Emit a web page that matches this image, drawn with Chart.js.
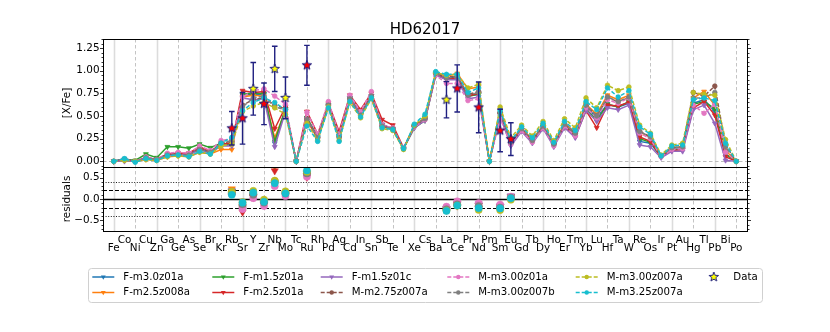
<!DOCTYPE html>
<html><head><meta charset="utf-8">
<script src="https://cdn.jsdelivr.net/npm/chart.js@4.4.1/dist/chart.umd.min.js"></script>
<style>html,body{margin:0;padding:0;background:#fff;}#wrap{width:830px;height:332px;}</style>
</head><body><div id="wrap"><canvas id="c" width="830" height="332"></canvas></div>
<script>
// ---------------- data ----------------
const elements = ['Fe','Co','Ni','Cu','Zn','Ga','Ge','As','Se','Br','Kr','Rb','Sr','Y','Zr','Nb','Mo','Tc','Ru','Rh',
  'Pd','Ag','Cd','In','Sn','Sb','Te','I','Xe','Cs','Ba','La','Ce','Pr','Nd','Pm','Sm','Eu','Gd','Tb',
  'Dy','Ho','Er','Tm','Yb','Lu','Hf','Ta','W','Re','Os','Ir','Pt','Au','Hg','Tl','Pb','Bi','Po'];
const modelNames = ['F-m3.0z01a','F-m2.5z008a','F-m1.5z01a','F-m2.5z01a','F-m1.5z01c',
  'M-m2.75z007a','M-m3.00z01a','M-m3.00z007b','M-m3.00z007a','M-m3.25z007a'];
const modelColors = ['#1f77b4','#ff7f0e','#2ca02c','#d62728','#9467bd','#8c564b','#e377c2','#7f7f7f','#bcbd22','#17becf'];
const F_m3_0z01a = [
0.00,0.03,0.00,0.04,0.02,0.07,0.08,0.08,0.14,0.10,
0.18,0.18,0.73,0.74,0.74,0.20,0.58,0.00,0.48,0.26,
0.62,0.27,0.70,0.52,0.72,0.40,0.36,0.14,0.38,0.46,
0.96,0.92,0.93,0.72,0.74,0.00,0.52,0.20,0.35,0.22,
0.38,0.18,0.40,0.30,0.60,0.48,0.63,0.60,0.64,0.22,
0.20,0.05,0.13,0.14,0.64,0.68,0.55,0.08,0.00];
const F_m2_5z008a = [
0.00,0.01,0.00,0.02,0.01,0.05,0.06,0.05,0.10,0.08,
0.13,0.13,0.71,0.73,0.72,0.26,0.56,0.00,0.45,0.25,
0.61,0.26,0.68,0.51,0.70,0.38,0.35,0.14,0.39,0.48,
0.98,0.94,0.97,0.80,0.82,0.00,0.57,0.22,0.37,0.24,
0.40,0.19,0.42,0.32,0.63,0.52,0.73,0.68,0.73,0.32,
0.27,0.06,0.15,0.16,0.70,0.77,0.62,0.12,0.00];
const F_m1_5z01a = [
0.00,0.02,0.01,0.08,0.04,0.16,0.16,0.145,0.19,0.15,
0.20,0.19,0.74,0.75,0.75,0.22,0.58,0.00,0.48,0.27,
0.62,0.28,0.70,0.52,0.72,0.40,0.36,0.14,0.37,0.45,
0.96,0.91,0.92,0.72,0.74,0.00,0.52,0.19,0.35,0.22,
0.38,0.18,0.39,0.29,0.58,0.45,0.63,0.60,0.66,0.25,
0.21,0.05,0.13,0.13,0.63,0.66,0.58,0.08,0.00];
const F_m2_5z01a = [
0.00,0.02,0.00,0.04,0.02,0.08,0.09,0.09,0.16,0.11,
0.19,0.20,0.78,0.76,0.77,0.36,0.60,0.00,0.55,0.30,
0.64,0.33,0.73,0.57,0.75,0.46,0.40,0.15,0.38,0.46,
0.96,0.91,0.92,0.72,0.75,0.00,0.52,0.19,0.35,0.22,
0.37,0.18,0.39,0.27,0.56,0.37,0.62,0.61,0.65,0.27,
0.22,0.05,0.12,0.13,0.59,0.66,0.51,0.05,0.00];
const F_m1_5z01c = [
0.00,0.00,0.00,0.04,0.02,0.06,0.07,0.07,0.13,0.09,
0.17,0.17,0.70,0.68,0.69,0.16,0.55,0.00,0.47,0.26,
0.61,0.28,0.70,0.52,0.72,0.41,0.36,0.14,0.37,0.45,
0.95,0.90,0.90,0.69,0.71,0.00,0.50,0.17,0.33,0.20,
0.36,0.16,0.37,0.26,0.56,0.44,0.59,0.57,0.62,0.18,
0.16,0.04,0.11,0.11,0.57,0.62,0.42,0.01,0.00];
const M_m2_75z007a = [
0.00,0.02,0.00,0.03,0.02,0.08,0.08,0.07,0.14,0.10,
0.20,0.22,0.62,0.68,0.70,0.62,0.58,0.00,0.47,0.26,
0.62,0.27,0.69,0.52,0.72,0.39,0.36,0.14,0.39,0.48,
0.97,0.93,0.94,0.74,0.77,0.00,0.54,0.21,0.36,0.23,
0.39,0.19,0.41,0.31,0.62,0.50,0.70,0.66,0.70,0.33,
0.27,0.06,0.15,0.16,0.76,0.72,0.83,0.18,0.00];
const M_m3_00z01a = [
0.00,0.02,0.00,0.05,0.02,0.09,0.10,0.09,0.17,0.12,
0.23,0.25,0.71,0.78,0.80,0.72,0.63,0.00,0.54,0.30,
0.66,0.30,0.73,0.55,0.77,0.40,0.37,0.15,0.38,0.46,
0.95,0.86,0.86,0.67,0.69,0.00,0.47,0.19,0.34,0.21,
0.37,0.17,0.39,0.28,0.59,0.48,0.68,0.64,0.70,0.31,
0.25,0.05,0.13,0.14,0.62,0.53,0.63,0.10,0.00];
const M_m3_00z007b = [
0.00,0.02,0.00,0.04,0.02,0.07,0.07,0.07,0.13,0.10,
0.20,0.23,0.60,0.70,0.72,0.60,0.57,0.00,0.46,0.26,
0.62,0.26,0.69,0.51,0.72,0.39,0.36,0.14,0.39,0.47,
0.97,0.92,0.93,0.73,0.76,0.00,0.54,0.21,0.36,0.23,
0.39,0.19,0.41,0.31,0.62,0.50,0.71,0.66,0.71,0.33,
0.27,0.06,0.15,0.16,0.70,0.70,0.76,0.16,0.00];
const M_m3_00z007a = [
0.00,0.01,0.00,0.02,0.01,0.05,0.06,0.05,0.10,0.08,
0.17,0.19,0.55,0.61,0.65,0.59,0.52,0.00,0.42,0.23,
0.60,0.23,0.65,0.48,0.69,0.36,0.34,0.13,0.40,0.50,
0.98,0.95,0.96,0.81,0.85,0.00,0.60,0.26,0.40,0.28,
0.44,0.23,0.47,0.37,0.70,0.59,0.84,0.78,0.82,0.40,
0.31,0.07,0.18,0.20,0.76,0.74,0.73,0.24,0.00];
const M_m3_25z007a = [
0.00,0.03,-0.01,0.03,0.01,0.06,0.07,0.05,0.11,0.08,
0.20,0.265,0.56,0.65,0.70,0.65,0.57,0.00,0.39,0.22,
0.59,0.22,0.66,0.49,0.70,0.37,0.35,0.14,0.41,0.52,
0.99,0.96,0.96,0.76,0.81,0.00,0.56,0.23,0.38,0.26,
0.42,0.21,0.44,0.34,0.66,0.57,0.81,0.71,0.78,0.38,
0.30,0.06,0.17,0.18,0.68,0.70,0.67,0.20,0.00];
const models = [F_m3_0z01a,F_m2_5z008a,F_m1_5z01a,F_m2_5z01a,F_m1_5z01c,
  M_m2_75z007a,M_m3_00z01a,M_m3_00z007b,M_m3_00z007a,M_m3_25z007a];

const dataElems  = ['Rb','Sr','Y','Zr','Nb','Mo','Ru','La','Ce','Nd','Sm','Eu'];
const dataValues = [0.365,0.475,0.80,0.635,1.02,0.70,1.06,0.68,0.805,0.595,0.34,0.245];
const dataErrors = [0.185,0.285,0.29,0.23,0.25,0.23,0.22,0.20,0.26,0.28,0.235,0.18];
const dataYellow = [false,false,true,false,true,true,false,true,false,false,false,false];

const topTickValues = [0,0.25,0.5,0.75,1.0,1.25];
const topTickLabels = ['0.00','0.25','0.50','0.75','1.00','1.25'];
const resTickValues = [-0.5,0,0.5];
const resTickLabels = ['\u22120.5','0.0','0.5'];
const title = 'HD62017';

// ---------------- layout ----------------
const P = {left:103, right:747, top:39, mid:167, bottom:231, W:830, H:332};
const TOP_RANGE = [-0.0625, 1.35];
const RES_RANGE = [-0.75, 0.75];
const topMin = TOP_RANGE[1] - (TOP_RANGE[1]-TOP_RANGE[0])*(P.bottom-P.top)/(P.mid-P.top);
const resMax = RES_RANGE[0] + (RES_RANGE[1]-RES_RANGE[0])*(P.bottom-P.top)/(P.bottom-P.mid);
const FONT = '"DejaVu Sans", sans-serif';
const NAVY = '#1f1f80';

function makeStar(fill, r){
  const s = Math.ceil(r*2+4), c = document.createElement('canvas');
  c.width = c.height = s;
  const g = c.getContext('2d');
  starPath(g, s/2, s/2, r);
  g.fillStyle = fill; g.fill();
  g.lineWidth = 1; g.strokeStyle = NAVY; g.stroke();
  return c;
}
function starPath(g, cx, cy, r){
  g.beginPath();
  for (let k=0;k<10;k++){
    const a = -Math.PI/2 + k*Math.PI/5, rr = k%2===0 ? r : r*0.42;
    const px = cx + rr*Math.cos(a), py = cy + rr*Math.sin(a);
    if (k===0) g.moveTo(px,py); else g.lineTo(px,py);
  }
  g.closePath();
}
const redStar = makeStar('#ff0000', 5);
const yellowStar = makeStar('#ffff00', 5);

const dataIdx = dataElems.map(e => elements.indexOf(e));
const isF = modelNames.map(n => n.startsWith('F'));

const datasets = [];
models.forEach((m, i) => {
  datasets.push({
    label: modelNames[i], yAxisID: 'y', order: 40 - i,
    data: m.map((v, k) => ({x: k, y: v})),
    borderColor: modelColors[i], backgroundColor: modelColors[i],
    borderWidth: 1.5, borderDash: isF[i] ? [] : [4, 2],
    pointStyle: isF[i] ? 'triangle' : 'circle', pointRotation: isF[i] ? 180 : 0,
    pointRadius: isF[i] ? 2.8 : 2.3, pointBorderWidth: 0.8, pointBorderColor: modelColors[i],
    tension: 0, clip: {left: 8, right: 8, top: 8, bottom: -(P.bottom - P.mid)}
  });
});
models.forEach((m, i) => {
  datasets.push({
    label: modelNames[i] + ' residual', yAxisID: 'yr', order: 20 - i, showLine: false,
    data: dataIdx.map((xi, k) => ({x: xi, y: +(dataValues[k] - m[xi]).toFixed(3)})),
    borderColor: modelColors[i], backgroundColor: modelColors[i],
    pointStyle: isF[i] ? 'triangle' : 'circle', pointRotation: isF[i] ? 180 : 0,
    pointRadius: isF[i] ? 4.2 : 3.6, pointBorderWidth: 0.5,
    clip: {left: 8, right: 8, top: -(P.mid - P.top), bottom: 8}
  });
});
datasets.push({
  label: 'Data', yAxisID: 'y', order: 0, showLine: false, isData: true,
  data: dataIdx.map((xi, k) => ({x: xi, y: dataValues[k]})),
  pointStyle: dataYellow.map(yl => yl ? yellowStar : redStar),
  pointRadius: 5, clip: false
});

function tri(ctx, x, y, r){
  ctx.beginPath();
  for (let k=0;k<3;k++){
    const a = Math.PI + k*2*Math.PI/3;
    const px = x + Math.sin(a)*r, py = y - Math.cos(a)*r;
    if (k===0) ctx.moveTo(px,py); else ctx.lineTo(px,py);
  }
  ctx.closePath();
}

const panelPlugin = {
  id: 'panels',
  beforeDatasetsDraw(chart){
    const ctx = chart.ctx, xs = chart.scales.x, ys = chart.scales.y, yr = chart.scales.yr;
    ctx.save();
    for (let i = 0; i < elements.length; i += 2){
      const px = Math.round(xs.getPixelForValue(i)) + 0.5;
      if (i % 4 === 0){ ctx.strokeStyle = '#dcdcdc'; ctx.lineWidth = 1.6; ctx.setLineDash([]); }
      else { ctx.strokeStyle = '#c4c4c4'; ctx.lineWidth = 1; ctx.setLineDash([3.5, 2.5]); }
      ctx.beginPath(); ctx.moveTo(px, P.top); ctx.lineTo(px, P.bottom); ctx.stroke();
    }
    // zero line in top panel
    let py = Math.round(ys.getPixelForValue(0)) + 0.5;
    ctx.strokeStyle = '#bdbdbd'; ctx.lineWidth = 1; ctx.setLineDash([3.5, 2.5]);
    ctx.beginPath(); ctx.moveTo(P.left, py); ctx.lineTo(P.right, py); ctx.stroke();
    // residual reference lines
    const refs = [[0, [], 1.3], [0.2, [4, 2], 1], [-0.2, [4, 2], 1], [0.4, [1, 1.6], 0.9], [-0.4, [1, 1.6], 0.9]];
    refs.forEach(([v, d, w]) => {
      const p = Math.round(yr.getPixelForValue(v)) + 0.5;
      ctx.strokeStyle = '#000'; ctx.lineWidth = w; ctx.setLineDash(d);
      ctx.beginPath(); ctx.moveTo(P.left, p); ctx.lineTo(P.right, p); ctx.stroke();
    });
    ctx.restore();
  },
  beforeDatasetDraw(chart, args){
    const ds = chart.data.datasets[args.index];
    if (!ds.isData) return;
    const ctx = chart.ctx, xs = chart.scales.x, ys = chart.scales.y;
    ctx.save();
    ctx.strokeStyle = NAVY; ctx.lineWidth = 1.4; ctx.setLineDash([]);
    dataIdx.forEach((xi, k) => {
      const px = xs.getPixelForValue(xi);
      const p1 = ys.getPixelForValue(dataValues[k] + dataErrors[k]);
      const p2 = ys.getPixelForValue(dataValues[k] - dataErrors[k]);
      ctx.beginPath();
      ctx.moveTo(px, p1); ctx.lineTo(px, p2);
      ctx.moveTo(px - 2.8, p1); ctx.lineTo(px + 2.8, p1);
      ctx.moveTo(px - 2.8, p2); ctx.lineTo(px + 2.8, p2);
      ctx.stroke();
    });
    ctx.restore();
  },
  afterDraw(chart){
    const ctx = chart.ctx, xs = chart.scales.x, ys = chart.scales.y, yr = chart.scales.yr;
    ctx.save();
    ctx.setLineDash([]);
    // frames
    ctx.strokeStyle = '#000'; ctx.lineWidth = 1;
    ctx.strokeRect(P.left + 0.5, P.top + 0.5, P.right - P.left, P.mid - P.top);
    ctx.strokeRect(P.left + 0.5, P.mid + 0.5, P.right - P.left, P.bottom - P.mid);
    // ticks
    const tickSet = (scale, majors, minorStep, lo, hi) => {
      ctx.lineWidth = 0.8; ctx.strokeStyle = '#000';
      const nMin = Math.ceil(lo / minorStep - 1e-6), nMax = Math.floor(hi / minorStep + 1e-6);
      for (let n = nMin; n <= nMax; n++){
        const v = n * minorStep;
        const p = Math.round(scale.getPixelForValue(v)) + 0.5;
        const major = majors.some(m => Math.abs(m - v) < 1e-6);
        const L = major ? 3.5 : 2;
        ctx.beginPath();
        ctx.moveTo(P.left + 0.5 - L, p); ctx.lineTo(P.left + 0.5, p);
        ctx.moveTo(P.right + 0.5, p); ctx.lineTo(P.right + 0.5 + L, p);
        ctx.stroke();
      }
    };
    tickSet(ys, topTickValues, 0.05, TOP_RANGE[0], TOP_RANGE[1]);
    tickSet(yr, resTickValues, 0.1, RES_RANGE[0] + 0.01, RES_RANGE[1] - 0.01);
    ctx.fillStyle = '#000';
    ctx.font = '10.4px ' + FONT; ctx.textAlign = 'right'; ctx.textBaseline = 'middle';
    topTickValues.forEach((v, k) => ctx.fillText(topTickLabels[k], 99.5, ys.getPixelForValue(v)));
    resTickValues.forEach((v, k) => ctx.fillText(resTickLabels[k], 99.5, yr.getPixelForValue(v)));
    // axis titles
    ctx.textAlign = 'center';
    ctx.save(); ctx.translate(67.5, (P.top + P.mid) / 2); ctx.rotate(-Math.PI / 2);
    ctx.fillText('[X/Fe]', 0, 0); ctx.restore();
    ctx.save(); ctx.translate(67.5, (P.mid + P.bottom) / 2); ctx.rotate(-Math.PI / 2);
    ctx.fillText('residuals', 0, 0); ctx.restore();
    // x labels
    elements.forEach((e, i) => {
      ctx.fillText(e, xs.getPixelForValue(i), i % 2 === 1 ? 240 : 248.5);
    });
    // title
    ctx.font = '15px ' + FONT;
    ctx.fillText(title, (P.left + P.right) / 2, 30.5);
    // legend
    const L = {x0: 88.5, y0: 268.5, x1: 762.5, y1: 302.5, rows: [277, 292.5],
      textX: [123.3, 243.3, 351.7, 478.3, 606.7, 733.3]};
    ctx.beginPath();
    if (ctx.roundRect) ctx.roundRect(L.x0, L.y0, L.x1 - L.x0, L.y1 - L.y0, 3);
    else ctx.rect(L.x0, L.y0, L.x1 - L.x0, L.y1 - L.y0);
    ctx.fillStyle = 'rgba(255,255,255,0.8)'; ctx.fill();
    ctx.strokeStyle = '#d0d0d0'; ctx.lineWidth = 1; ctx.stroke();
    ctx.font = '10.2px ' + FONT; ctx.textAlign = 'left'; ctx.textBaseline = 'middle';
    modelNames.forEach((n, i) => {
      const col = Math.floor(i / 2), row = i % 2;
      const tx = L.textX[col], ty = L.rows[row];
      ctx.strokeStyle = modelColors[i]; ctx.lineWidth = 1.5;
      ctx.setLineDash(isF[i] ? [] : [4, 2]);
      ctx.beginPath(); ctx.moveTo(tx - 31, ty); ctx.lineTo(tx - 9, ty); ctx.stroke();
      ctx.setLineDash([]);
      ctx.fillStyle = modelColors[i];
      if (isF[i]) { tri(ctx, tx - 20, ty, 2.8); ctx.fill(); }
      else { ctx.beginPath(); ctx.arc(tx - 20, ty, 2.2, 0, 2 * Math.PI); ctx.fill(); }
      ctx.fillStyle = '#000';
      ctx.fillText(n, tx, ty);
    });
    ctx.drawImage(yellowStar, L.textX[5] - 19.5 - yellowStar.width / 2, L.rows[0] - yellowStar.height / 2);
    ctx.fillStyle = '#000';
    ctx.fillText('Data', L.textX[5], L.rows[0]);
    ctx.restore();
  }
};

new Chart(document.getElementById('c'), {
  type: 'line',
  data: {datasets},
  options: {
    responsive: false, animation: false, devicePixelRatio: 1,
    layout: {padding: {left: P.left, right: P.W - P.right, top: P.top, bottom: P.H - P.bottom}},
    plugins: {legend: {display: false}, tooltip: {enabled: false}},
    scales: {
      x: {type: 'linear', min: -1, max: elements.length, display: false},
      y: {type: 'linear', min: topMin, max: TOP_RANGE[1], display: false},
      yr: {type: 'linear', min: RES_RANGE[0], max: resMax, display: false}
    }
  },
  plugins: [panelPlugin]
});
</script></body></html>
